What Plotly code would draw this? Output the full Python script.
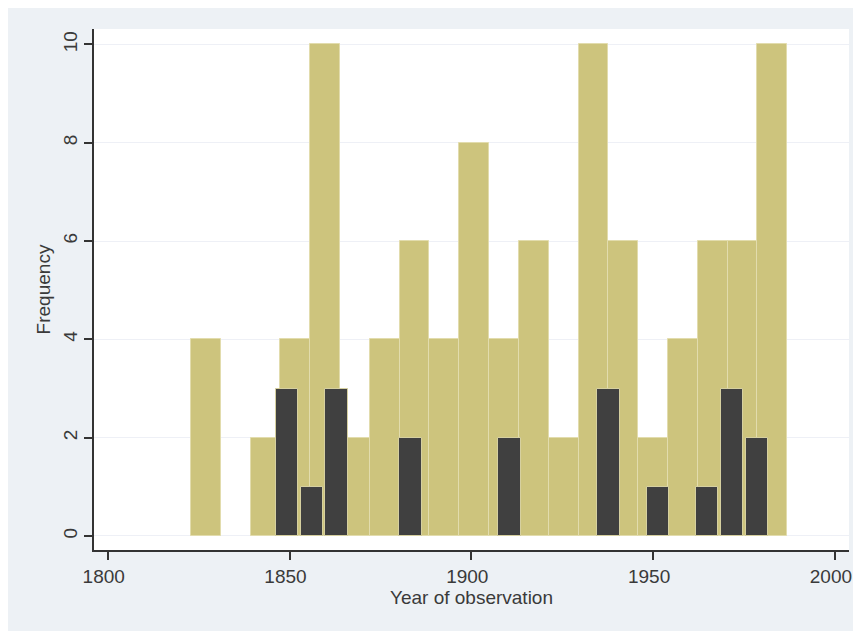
import plotly.graph_objects as go

# Histogram of all observations (20 bins)
all_bin_start = 1822.9
all_bin_width = 8.2
all_counts = [4, 0, 2, 4, 10, 2, 4, 6, 4, 8, 4, 6, 2, 10, 6, 2, 4, 6, 6, 10]

# Histogram of subgroup (20 bins)
sub_bin_start = 1845.9
sub_bin_width = 6.8
sub_counts = [3, 1, 3, 0, 0, 2, 0, 0, 0, 2, 0, 0, 0, 3, 0, 1, 0, 1, 3, 2]

x_ticks = [1800, 1850, 1900, 1950, 2000]
y_ticks = [0, 2, 4, 6, 8, 10]

all_x = [all_bin_start + (i + 0.5) * all_bin_width for i in range(len(all_counts))]
sub_x = [sub_bin_start + (i + 0.5) * sub_bin_width for i in range(len(sub_counts))]
all_y = [c if c > 0 else None for c in all_counts]
sub_y = [c if c > 0 else None for c in sub_counts]

W, H = 845, 631
ml, mr, mt, mb = 86, 4, 21, 89

fig = go.Figure()
fig.add_trace(go.Bar(
    x=all_x, y=all_y, width=all_bin_width,
    marker=dict(color="#CDC47D", line=dict(color="#E2DCAD", width=1)),
    showlegend=False, hoverinfo="x+y"))
fig.add_trace(go.Bar(
    x=sub_x, y=sub_y, width=sub_bin_width * 0.9,
    marker=dict(color="#404040", line=dict(color="#D6D0A0", width=1)),
    showlegend=False, hoverinfo="x+y"))

font = dict(family="Liberation Sans, Arial, sans-serif", size=19, color="#3A3A3A")

fig.update_layout(
    width=W, height=H,
    margin=dict(l=ml, r=mr, t=mt, b=mb, autoexpand=False),
    paper_bgcolor="#EDF1F5",
    plot_bgcolor="#FFFFFF",
    barmode="overlay",
    bargap=0,
    font=font,
    xaxis=dict(
        range=[1796.23, 2003.88],
        tickvals=x_ticks, ticktext=[str(v) for v in x_ticks],
        showgrid=False, zeroline=False,
        showline=True, linecolor="#333333", linewidth=1.5,
        ticks="outside", ticklen=8, tickwidth=1.5, tickcolor="#333333",
        ticklabeloverflow="allow", ticklabelshift=-4,
        title=dict(text="Year of observation", standoff=2, font=font),
        automargin=False,
    ),
    yaxis=dict(
        range=[-0.285, 10.315],
        tickvals=y_ticks, ticktext=[str(v) for v in y_ticks],
        tickangle=-90,
        showgrid=True, gridcolor="#EEF0F6", gridwidth=1,
        zeroline=False,
        showline=True, linecolor="#333333", linewidth=1.5,
        ticks="outside", ticklen=8, tickwidth=1.5, tickcolor="#333333",
        title=dict(text="Frequency", standoff=4, font=font),
        automargin=False,
    ),
)

fig.write_html("out.html")
